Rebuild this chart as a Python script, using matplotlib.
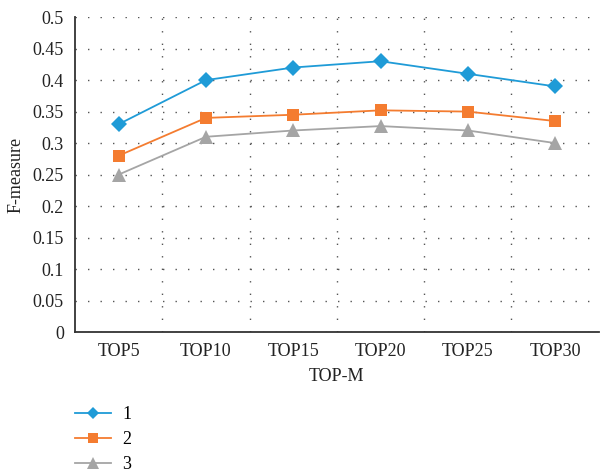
import matplotlib
matplotlib.use("Agg")
import matplotlib.pyplot as plt
import numpy as np

categories = ["TOP5", "TOP10", "TOP15", "TOP20", "TOP25", "TOP30"]
series_1 = [0.33, 0.40, 0.42, 0.43, 0.41, 0.39]
series_2 = [0.28, 0.34, 0.345, 0.352, 0.35, 0.335]
series_3 = [0.25, 0.31, 0.32, 0.327, 0.32, 0.30]
series_labels = ["1", "2", "3"]
y_ticks = [0, 0.05, 0.1, 0.15, 0.2, 0.25, 0.3, 0.35, 0.4, 0.45, 0.5]
y_tick_labels = ["0", "0.05", "0.1", "0.15", "0.2", "0.25", "0.3", "0.35", "0.4", "0.45", "0.5"]

plt.rcParams["font.family"] = ["Liberation Serif", "DejaVu Serif"]
FS = 13

fig = plt.figure(figsize=(6.0, 4.76), dpi=100)
ax = fig.add_axes([0.125, 0.3025, 0.873, 0.6615])

x = np.arange(len(categories))
styles = [
    (series_1, "#1f9bd7", "D", 8),
    (series_2, "#f47c30", "s", 8.5),
    (series_3, "#a5a5a5", "^", 10),
]
handles = []
for (vals, color, marker, ms), lab in zip(styles, series_labels):
    h, = ax.plot(x, vals, color=color, lw=1.3, marker=marker, ms=ms,
                 markeredgewidth=0, label=lab, zorder=3)
    handles.append(h)

ax.set_xlim(-0.5, len(categories) - 0.5)
ax.set_ylim(0, 0.5)
ax.set_yticks(y_ticks)
ax.set_yticklabels(y_tick_labels, fontsize=FS, color="#222222")
ax.set_xticks(x)
ax.set_xticklabels(categories, fontsize=FS, color="#222222")
ax.set_xticks(x[:-1] + 0.5, minor=True)
ax.tick_params(axis="both", which="both", length=0)
ax.tick_params(axis="y", pad=8)
ax.tick_params(axis="x", pad=8)

dot = (0, (1, 8))
ax.grid(axis="y", which="major", color="#555555", lw=1.0, linestyle=dot)
ax.grid(axis="x", which="minor", color="#555555", lw=1.0, linestyle=dot)
ax.grid(axis="x", which="major", visible=False)
ax.set_axisbelow(True)

for side in ("top", "right"):
    ax.spines[side].set_visible(False)
for side in ("left", "bottom"):
    ax.spines[side].set_color("#333333")
    ax.spines[side].set_linewidth(1.3)

ax.set_xlabel("TOP-M", fontsize=FS, color="#222222", labelpad=6)
ax.set_ylabel("F-measure", fontsize=FS, color="#222222", labelpad=6)

fig.legend(handles=handles, loc="upper left", bbox_to_anchor=(0.113, 0.162),
           frameon=False, fontsize=FS, handlelength=2.0, labelspacing=0.45,
           handletextpad=0.6, borderaxespad=0, markerscale=0.8)

fig.savefig("out.png", dpi=100)
